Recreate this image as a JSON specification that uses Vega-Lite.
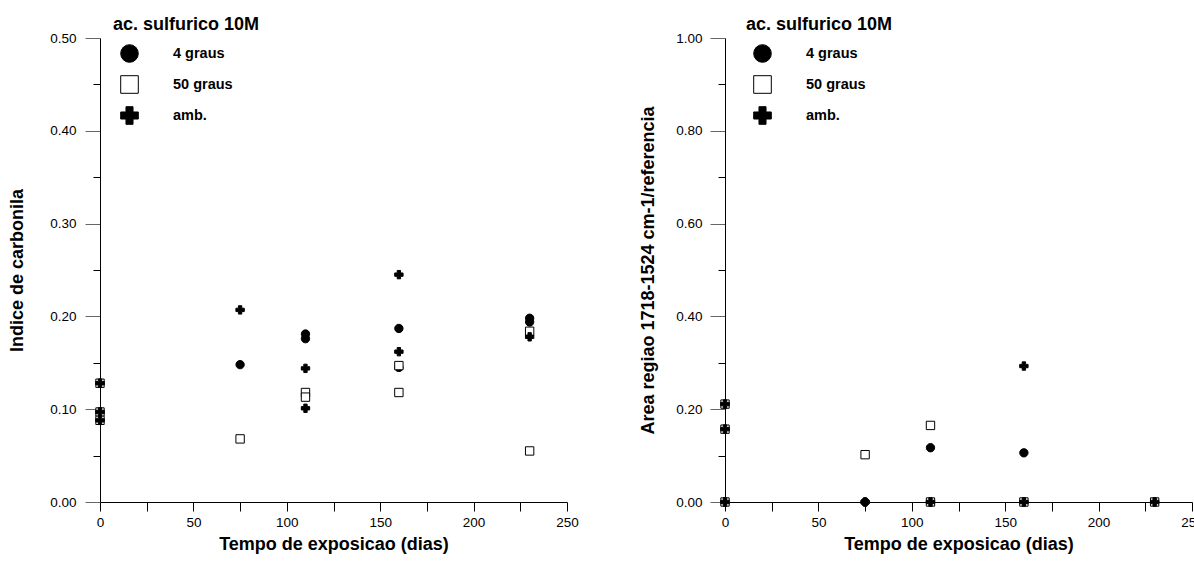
{
  "$schema": "https://vega.github.io/schema/vega-lite/v6.json",
  "background": "white",
  "padding": {"left": 8, "top": 16, "right": -7, "bottom": 4},
  "spacing": 60,
  "datasets": {
    "carbonila": [
      {"serie": "4 graus", "dias": 0, "valor": 0.128},
      {"serie": "4 graus", "dias": 0, "valor": 0.097},
      {"serie": "4 graus", "dias": 0, "valor": 0.088},
      {"serie": "4 graus", "dias": 75, "valor": 0.148},
      {"serie": "4 graus", "dias": 110, "valor": 0.181},
      {"serie": "4 graus", "dias": 110, "valor": 0.176},
      {"serie": "4 graus", "dias": 160, "valor": 0.187},
      {"serie": "4 graus", "dias": 160, "valor": 0.145},
      {"serie": "4 graus", "dias": 230, "valor": 0.198},
      {"serie": "4 graus", "dias": 230, "valor": 0.194},
      {"serie": "50 graus", "dias": 0, "valor": 0.128},
      {"serie": "50 graus", "dias": 0, "valor": 0.097},
      {"serie": "50 graus", "dias": 0, "valor": 0.088},
      {"serie": "50 graus", "dias": 75, "valor": 0.068},
      {"serie": "50 graus", "dias": 110, "valor": 0.118},
      {"serie": "50 graus", "dias": 110, "valor": 0.113},
      {"serie": "50 graus", "dias": 160, "valor": 0.147},
      {"serie": "50 graus", "dias": 160, "valor": 0.118},
      {"serie": "50 graus", "dias": 230, "valor": 0.184},
      {"serie": "50 graus", "dias": 230, "valor": 0.055},
      {"serie": "amb.", "dias": 0, "valor": 0.128},
      {"serie": "amb.", "dias": 0, "valor": 0.097},
      {"serie": "amb.", "dias": 0, "valor": 0.088},
      {"serie": "amb.", "dias": 75, "valor": 0.207},
      {"serie": "amb.", "dias": 110, "valor": 0.144},
      {"serie": "amb.", "dias": 110, "valor": 0.101},
      {"serie": "amb.", "dias": 160, "valor": 0.245},
      {"serie": "amb.", "dias": 160, "valor": 0.162},
      {"serie": "amb.", "dias": 230, "valor": 0.178}
    ],
    "area": [
      {"serie": "4 graus", "dias": 0, "valor": 0.211},
      {"serie": "4 graus", "dias": 0, "valor": 0.157},
      {"serie": "4 graus", "dias": 0, "valor": 0},
      {"serie": "4 graus", "dias": 75, "valor": 0},
      {"serie": "4 graus", "dias": 110, "valor": 0.117},
      {"serie": "4 graus", "dias": 110, "valor": 0},
      {"serie": "4 graus", "dias": 160, "valor": 0.106},
      {"serie": "4 graus", "dias": 160, "valor": 0},
      {"serie": "4 graus", "dias": 230, "valor": 0},
      {"serie": "50 graus", "dias": 0, "valor": 0.211},
      {"serie": "50 graus", "dias": 0, "valor": 0.157},
      {"serie": "50 graus", "dias": 0, "valor": 0},
      {"serie": "50 graus", "dias": 75, "valor": 0.102},
      {"serie": "50 graus", "dias": 110, "valor": 0.165},
      {"serie": "50 graus", "dias": 110, "valor": 0},
      {"serie": "50 graus", "dias": 160, "valor": 0},
      {"serie": "50 graus", "dias": 230, "valor": 0},
      {"serie": "amb.", "dias": 0, "valor": 0.211},
      {"serie": "amb.", "dias": 0, "valor": 0.157},
      {"serie": "amb.", "dias": 0, "valor": 0},
      {"serie": "amb.", "dias": 75, "valor": 0},
      {"serie": "amb.", "dias": 110, "valor": 0},
      {"serie": "amb.", "dias": 160, "valor": 0.293},
      {"serie": "amb.", "dias": 160, "valor": 0},
      {"serie": "amb.", "dias": 230, "valor": 0}
    ]
  },
  "hconcat": [
    {
      "width": 467,
      "height": 464,
      "data": {"name": "carbonila"},
      "mark": {"type": "point", "filled": true, "strokeWidth": 1, "opacity": 1},
      "encoding": {
        "x": {
          "field": "dias", "type": "quantitative",
          "scale": {"domain": [0, 250], "nice": false},
          "axis": {
            "title": "Tempo de exposicao (dias)",
            "values": [0, 25, 50, 75, 100, 125, 150, 175, 200, 225, 250],
            "labelExpr": "datum.value % 50 === 0 ? datum.label : ''",
            "tickSize": 9, "labelPadding": 4, "titlePadding": 7, "labelFlush": false
          }
        },
        "y": {
          "field": "valor", "type": "quantitative",
          "scale": {"domain": [0, 0.5], "nice": false},
          "axis": {
            "title": "Indice de carbonila",
            "values": [0, 0.05, 0.1, 0.15, 0.2, 0.25, 0.3, 0.35, 0.4, 0.45, 0.5],
            "labelExpr": "round(datum.value * 20) % 2 === 0 ? format(datum.value, '.2f') : ''",
            "tickSize": {"condition": {"test": "round(datum.value * 20) % 2 === 0", "value": 15}, "value": 7},
            "tickColor": {"condition": {"test": "round(datum.value * 20) % 2 === 0", "value": "#666666"}, "value": "black"},
            "labelPadding": 9, "titlePadding": 23, "labelFlush": false
          }
        },
        "shape": {
          "field": "serie", "type": "nominal", "title": "ac. sulfurico 10M",
          "scale": {"domain": ["4 graus", "50 graus", "amb."], "range": ["circle", "square", "cross"]},
          "legend": {"legendX": 13, "title": "ac. sulfurico 10M"}
        },
        "fill": {
          "field": "serie", "type": "nominal", "title": "ac. sulfurico 10M",
          "scale": {"domain": ["4 graus", "50 graus", "amb."], "range": ["black", "white", "black"]},
          "legend": {"legendX": 13, "title": "ac. sulfurico 10M"}
        },
        "stroke": {
          "field": "serie", "type": "nominal", "title": "ac. sulfurico 10M",
          "scale": {"domain": ["4 graus", "50 graus", "amb."], "range": ["black", "black", "black"]},
          "legend": {"legendX": 13, "title": "ac. sulfurico 10M"}
        },
        "size": {"value": 70}
      }
    },
    {
      "width": 467,
      "height": 464,
      "data": {"name": "area"},
      "mark": {"type": "point", "filled": true, "strokeWidth": 1, "opacity": 1},
      "encoding": {
        "x": {
          "field": "dias", "type": "quantitative",
          "scale": {"domain": [0, 250], "nice": false},
          "axis": {
            "title": "Tempo de exposicao (dias)",
            "values": [0, 25, 50, 75, 100, 125, 150, 175, 200, 225, 250],
            "labelExpr": "datum.value % 50 === 0 ? datum.label : ''",
            "tickSize": 9, "labelPadding": 4, "titlePadding": 7, "labelFlush": false
          }
        },
        "y": {
          "field": "valor", "type": "quantitative",
          "scale": {"domain": [0, 1], "nice": false},
          "axis": {
            "title": "Area regiao 1718-1524 cm-1/referencia",
            "values": [0, 0.1, 0.2, 0.3, 0.4, 0.5, 0.6, 0.7, 0.8, 0.9, 1],
            "labelExpr": "round(datum.value * 10) % 2 === 0 ? format(datum.value, '.2f') : ''",
            "tickSize": {"condition": {"test": "round(datum.value * 10) % 2 === 0", "value": 15}, "value": 7},
            "tickColor": {"condition": {"test": "round(datum.value * 10) % 2 === 0", "value": "#666666"}, "value": "black"},
            "labelPadding": 8, "titlePadding": 18, "labelFlush": false
          }
        },
        "shape": {
          "field": "serie", "type": "nominal", "title": "ac. sulfurico 10M",
          "scale": {"domain": ["4 graus", "50 graus", "amb."], "range": ["circle", "square", "cross"]},
          "legend": {"legendX": 21, "title": "ac. sulfurico 10M"}
        },
        "fill": {
          "field": "serie", "type": "nominal", "title": "ac. sulfurico 10M",
          "scale": {"domain": ["4 graus", "50 graus", "amb."], "range": ["black", "white", "black"]},
          "legend": {"legendX": 21, "title": "ac. sulfurico 10M"}
        },
        "stroke": {
          "field": "serie", "type": "nominal", "title": "ac. sulfurico 10M",
          "scale": {"domain": ["4 graus", "50 graus", "amb."], "range": ["black", "black", "black"]},
          "legend": {"legendX": 21, "title": "ac. sulfurico 10M"}
        },
        "size": {"value": 70}
      }
    }
  ],
  "resolve": {"scale": {"x": "independent", "y": "independent", "shape": "independent", "fill": "independent", "stroke": "independent"}, "legend": {"shape": "independent", "fill": "independent", "stroke": "independent"}},
  "config": {
    "font": "Liberation Sans",
    "view": {"stroke": null},
    "axis": {
      "grid": false,
      "domainColor": "black",
      "domainWidth": 1,
      "tickColor": "black",
      "tickWidth": 1,
      "labelColor": "black",
      "labelFontSize": 13.5,
      "titleColor": "black",
      "titleFontSize": 18,
      "titleFontWeight": "bold"
    },
    "legend": {
      "orient": "none",
      "legendY": -22,
      "titleFontSize": 18,
      "titleFontWeight": "bold",
      "titleColor": "black",
      "titlePadding": 10,
      "titleAnchor": "start",
      "labelFontSize": 14.5,
      "labelFontWeight": "bold",
      "labelColor": "black",
      "symbolSize": 310,
      "symbolStrokeColor": "black",
      "symbolStrokeWidth": 1,
      "symbolOffset": 7,
      "labelOffset": 34,
      "rowPadding": 8,
      "padding": 0
    }
  }
}
